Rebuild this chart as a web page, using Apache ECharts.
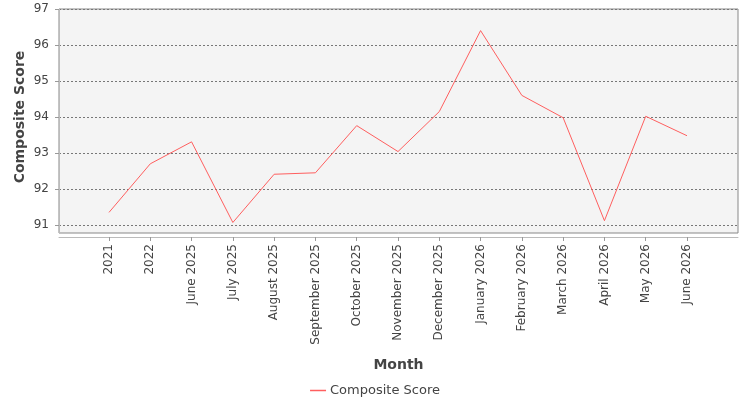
<!DOCTYPE html>
<html>
<head>
<meta charset="utf-8">
<script src="https://cdn.jsdelivr.net/npm/echarts@6/dist/echarts.min.js"></script>
<style>
  html, body { margin: 0; padding: 0; background: #fff; }
  #chart { width: 750px; height: 400px; }
</style>
</head>
<body>
<div id="chart"></div>
<script>
// data
const months = ['2021', '2022', 'June 2025', 'July 2025', 'August 2025', 'September 2025',
  'October 2025', 'November 2025', 'December 2025', 'January 2026', 'February 2026',
  'March 2026', 'April 2026', 'May 2026', 'June 2026']
const compositeScore = [91.35, 92.70, 93.31, 91.07, 92.41, 92.45, 93.76, 93.04, 94.15,
  96.40, 94.60, 93.98, 91.12, 94.02, 93.48]
const yMin = 91
const yMax = 97

const font = 'DejaVu Sans'
const lineColor = '#ff5f5f'
const chart = echarts.init(document.getElementById('chart'))

const option = {
  animation: false,
  backgroundColor: '#fff',
  grid: [
    // plot background + border (extends a bit below the lowest tick)
    { left: 59, right: 12, top: 9, height: 224, show: true, backgroundColor: '#f4f4f4', borderColor: '#888', borderWidth: 1 },
    // y scale with grid lines across the full plot width
    { left: 59, right: 12, top: 9, height: 216 },
    // data grid, categories inset like the original
    { left: 109, right: 63, top: 9, height: 216 }
  ],
  legend: {
    top: 379,
    left: 'center',
    icon: 'path://M0,0 L16,0 L16,1.5 L0,1.5 Z',
    itemWidth: 16,
    itemHeight: 1.5,
    itemGap: 10,
    itemStyle: { color: lineColor },
    textStyle: { fontFamily: font, fontSize: 13, color: '#444', padding: [0, 0, 0, -1] },
    data: ['Composite Score']
  },
  xAxis: [
    { gridIndex: 0, type: 'value', show: false },
    {
      gridIndex: 1, type: 'value', offset: 12,
      axisLine: { show: true, lineStyle: { color: '#bbb' } },
      axisTick: { show: false }, axisLabel: { show: false }, splitLine: { show: false },
      name: 'Month', nameLocation: 'middle', nameGap: 121,
      nameTextStyle: { fontFamily: font, fontSize: 14, fontWeight: 'bold', color: '#444' }
    },
    {
      gridIndex: 2, type: 'category', data: months, boundaryGap: false, offset: 12,
      axisLine: { show: false },
      axisTick: { show: true, length: 4, lineStyle: { color: '#999' } },
      axisLabel: { rotate: 90, margin: 7, fontFamily: font, fontSize: 12, color: '#444' },
      splitLine: { show: false }
    }
  ],
  yAxis: [
    {
      // axis line running the full height of the plot box
      gridIndex: 0, type: 'value', offset: 4,
      axisLine: { show: true, lineStyle: { color: '#bbb' } },
      axisTick: { show: false }, axisLabel: { show: false }, splitLine: { show: false }
    },
    {
      gridIndex: 1, type: 'value', min: yMin, max: yMax, interval: 1, offset: 4,
      axisLine: { show: false },
      axisTick: { show: true, length: 4, lineStyle: { color: '#999' } },
      axisLabel: { margin: 6, fontFamily: font, fontSize: 12, color: '#444' },
      splitLine: { show: true, lineStyle: { color: '#777', type: [2, 2], width: 1 } },
      name: 'Composite Score', nameLocation: 'middle', nameGap: 28, nameMoveOverlap: false,
      nameTextStyle: { fontFamily: font, fontSize: 14, fontWeight: 'bold', color: '#444' }
    },
    { gridIndex: 2, type: 'value', min: yMin, max: yMax, show: false }
  ],
  series: [
    {
      name: 'Composite Score',
      type: 'line',
      xAxisIndex: 2,
      yAxisIndex: 2,
      data: compositeScore,
      symbol: 'none',
      itemStyle: { color: lineColor },
      lineStyle: { color: lineColor, width: 1 }
    }
  ]
}

chart.setOption(option)
</script>
</body>
</html>
